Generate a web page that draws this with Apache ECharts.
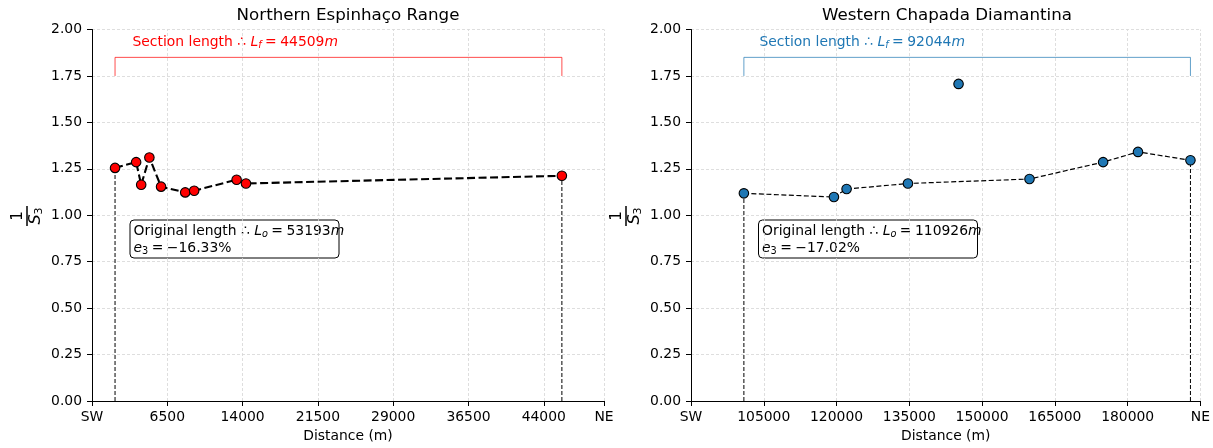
<!DOCTYPE html>
<html>
<head>
<meta charset="utf-8">
<script src="https://cdn.jsdelivr.net/npm/echarts@6/dist/echarts.min.js"></script>
<style>html,body{margin:0;padding:0;background:#fff;}#c{width:1213px;height:448px;}</style>
</head>
<body>
<div id="c"></div>
<script>
// ---- data ----
const espDist = [1295, 3396, 3900, 4715, 5879, 8285, 9177, 13406, 14338, 45804];
const espInvS3 = [1.255, 1.286, 1.164, 1.311, 1.154, 1.123, 1.132, 1.191, 1.171, 1.2125];
const chapDist = [100900, 119462, 122070, 134715, 159768, 174942, 182133, 192944];
const chapInvS3 = [1.118, 1.098, 1.141, 1.171, 1.195, 1.286, 1.341, 1.296];
const chapOutlierDist = [145147];
const chapOutlierInvS3 = [1.707];
const espTicks = [-1000, 6500, 14000, 21500, 29000, 36500, 44000, 50000];
const chapTicks = [90000, 105000, 120000, 135000, 150000, 165000, 180000, 195000];
const yMin = 0, yMax = 2, yStep = 0.25;
const bracketLow = 1.75, bracketHigh = 1.85;
const espTitle = 'Northern Espinhaço Range';
const chapTitle = 'Western Chapada Diamantina';
const espSection = '44509', chapSection = '92044';
const espOriginal = '53193', chapOriginal = '110926';
const espE3 = '−16.33%', chapE3 = '−17.02%';

const FONT = 'DejaVu Sans';
const SP = '\u2005';
const chart = echarts.init(document.getElementById('c'), null, {renderer: 'canvas'});

function zip(xs, ys) { return xs.map((x, i) => [x, ys[i]]); }

function xAxisFor(idx, ticks) {
  const lo = ticks[0], hi = ticks[ticks.length - 1];
  return {
    type: 'value', gridIndex: idx, min: lo, max: hi,
    name: 'Distance (m)', nameLocation: 'middle', nameGap: 35,
    nameTextStyle: {fontFamily: FONT, fontSize: 13.9, color: '#000', verticalAlign: 'middle'},
    axisLine: {show: true, onZero: false, lineStyle: {color: '#000', width: 1}},
    axisTick: {show: true, length: 5, inside: false, customValues: ticks, lineStyle: {color: '#000', width: 1}},
    axisLabel: {show: true, customValues: ticks, margin: 9, fontFamily: FONT, fontSize: 13.9, color: '#000',
      showMinLabel: true, showMaxLabel: true,
      formatter: v => v === lo ? 'SW' : (v === hi ? 'NE' : String(v))},
    splitLine: {show: false}
  };
}
function yAxisFor(idx) {
  return {
    type: 'value', gridIndex: idx, min: yMin, max: yMax, interval: yStep,
    axisLine: {show: true, onZero: false, lineStyle: {color: '#000', width: 1}},
    axisTick: {show: true, length: 5, inside: false, lineStyle: {color: '#000', width: 1}},
    axisLabel: {margin: 10, fontFamily: FONT, fontSize: 13.9, color: '#000', formatter: v => v.toFixed(2)},
    splitLine: {show: true, lineStyle: {color: '#d6d6d6', width: 0.8, type: [3, 2]}}
  };
}
function gridLinesSeries(idx, ticks) {
  return {
    type: 'line', xAxisIndex: idx, yAxisIndex: idx, data: [], z: 1, silent: true,
    markLine: {z: 1, silent: true, symbol: 'none', animation: false, label: {show: false},
      lineStyle: {color: '#d6d6d6', width: 0.8, type: [3, 2]},
      data: ticks.slice(1).map(v => ({xAxis: v}))}
  };
}
function vSeries(idx, x, y) {
  return {type: 'line', xAxisIndex: idx, yAxisIndex: idx, z: 2, silent: true, symbol: 'none',
    data: [[x, yMin], [x, y]], lineStyle: {color: '#000', width: 1, type: [4, 2]}};
}
function bracketSeries(idx, x0, x1, color) {
  return {type: 'line', xAxisIndex: idx, yAxisIndex: idx, z: 2, silent: true, symbol: 'none',
    data: [[x0, bracketLow], [x0, bracketHigh], [x1, bracketHigh], [x1, bracketLow]],
    lineStyle: {color: color, width: 1, opacity: 0.7}};
}

const espData = zip(espDist, espInvS3);
const chapData = zip(chapDist, chapInvS3);
const outData = zip(chapOutlierDist, chapOutlierInvS3);

const series = [
  gridLinesSeries(0, espTicks),
  gridLinesSeries(1, chapTicks),
  vSeries(0, espDist[0], espInvS3[0]),
  vSeries(0, espDist[espDist.length - 1], espInvS3[espInvS3.length - 1]),
  vSeries(1, chapDist[0], chapInvS3[0]),
  vSeries(1, chapDist[chapDist.length - 1], chapInvS3[chapInvS3.length - 1]),
  bracketSeries(0, espDist[0], espDist[espDist.length - 1], '#ff0000'),
  bracketSeries(1, chapDist[0], chapDist[chapDist.length - 1], '#1f77b4'),
  {type: 'line', xAxisIndex: 0, yAxisIndex: 0, z: 3, data: espData, symbol: 'circle', symbolSize: 9.5, showSymbol: true,
    lineStyle: {color: '#000', width: 2.1, type: [8, 3.5]},
    itemStyle: {color: '#ff0000', borderColor: '#000', borderWidth: 1.1}},
  {type: 'line', xAxisIndex: 1, yAxisIndex: 1, z: 3, data: chapData, symbol: 'circle', symbolSize: 9.5, showSymbol: true,
    lineStyle: {color: '#000', width: 1.2, type: [5, 2.5]},
    itemStyle: {color: '#1f77b4', borderColor: '#000', borderWidth: 1.1}},
  {type: 'scatter', xAxisIndex: 1, yAxisIndex: 1, z: 3, data: outData, symbol: 'circle', symbolSize: 9.5,
    itemStyle: {color: '#1f77b4', borderColor: '#000', borderWidth: 1.1, opacity: 1}}
];

const mathRich = (color, size) => ({
  t: {fontFamily: FONT, fontSize: size, fill: color, lineHeight: 17, verticalAlign: 'middle'},
  i: {fontFamily: FONT, fontSize: size, fontStyle: 'italic', fill: color, lineHeight: 17, verticalAlign: 'middle'},
  s: {fontFamily: FONT, fontSize: size * 0.7, fill: color, lineHeight: 17, verticalAlign: 'bottom'},
  si: {fontFamily: FONT, fontSize: size * 0.7, fontStyle: 'italic', fill: color, lineHeight: 17, verticalAlign: 'bottom'}
});

function sectionText(x, val, color) {
  return {type: 'text', x: x, y: 42, z: 10, silent: true,
    style: {text: '{t|Section length ∴ }{i|L}{si|f}{t|' + SP + '=' + SP + val + '}{i|m}', rich: mathRich(color, 13.9),
      fill: color, align: 'left', verticalAlign: 'middle'}};
}
function boxGroup(x, y, w, h, orig, e3) {
  return {type: 'group', x: x, y: y, z: 10, silent: true, children: [
    {type: 'rect', shape: {x: 0, y: 0, width: w, height: h, r: 4}, style: {fill: 'rgba(255,255,255,0.9)', stroke: '#000', lineWidth: 1}},
    {type: 'text', x: 3.5, y: 2.5, style: {
      text: '{t|Original length ∴ }{i|L}{si|o}{t|' + SP + '=' + SP + orig + '}{i|m}\n{i|e}{s|3}{t|' + SP + '=' + SP + e3 + '}',
      rich: mathRich('#000', 13.9), fill: '#000', align: 'left', verticalAlign: 'top'}}
  ]};
}
function fracLabel(x, y) {
  return {type: 'group', x: x, y: y, rotation: Math.PI / 2, z: 10, silent: true, children: [
    {type: 'text', x: 0, y: -9, style: {text: '1', fontFamily: FONT, fontSize: 15, fill: '#000', align: 'center', verticalAlign: 'middle'}},
    {type: 'rect', shape: {x: -10, y: -0.75, width: 20, height: 1.5}, style: {fill: '#000'}},
    {type: 'text', x: 0, y: 9, style: {text: '{i|S}{s|3}', align: 'center', verticalAlign: 'middle',
      rich: {i: {fontFamily: FONT, fontSize: 16, fontStyle: 'italic', fill: '#000', lineHeight: 18, verticalAlign: 'middle'},
             s: {fontFamily: FONT, fontSize: 11, fill: '#000', lineHeight: 18, verticalAlign: 'bottom'}}}}
  ]};
}

chart.setOption({
  animation: false,
  backgroundColor: '#fff',
  textStyle: {fontFamily: FONT},
  grid: [
    {left: 92, top: 29.5, width: 512, height: 372, containLabel: false},
    {left: 691, top: 29.5, width: 512, height: 372, containLabel: false}
  ],
  xAxis: [xAxisFor(0, espTicks), xAxisFor(1, chapTicks)],
  yAxis: [yAxisFor(0), yAxisFor(1)],
  series: series,
  graphic: [
    {type: 'text', x: 348, y: 16, silent: true, style: {text: espTitle, fontFamily: FONT, fontSize: 16.7, fill: '#000', align: 'center', verticalAlign: 'middle'}},
    {type: 'text', x: 947, y: 16, silent: true, style: {text: chapTitle, fontFamily: FONT, fontSize: 16.7, fill: '#000', align: 'center', verticalAlign: 'middle'}},
    sectionText(132.5, espSection, '#ff0000'),
    sectionText(759.5, chapSection, '#1f77b4'),
    boxGroup(130, 220, 209, 38, espOriginal, espE3),
    boxGroup(758.5, 220, 219, 38, chapOriginal, chapE3),
    fracLabel(27, 216),
    fracLabel(626, 216)
  ]
});
</script>
</body>
</html>
